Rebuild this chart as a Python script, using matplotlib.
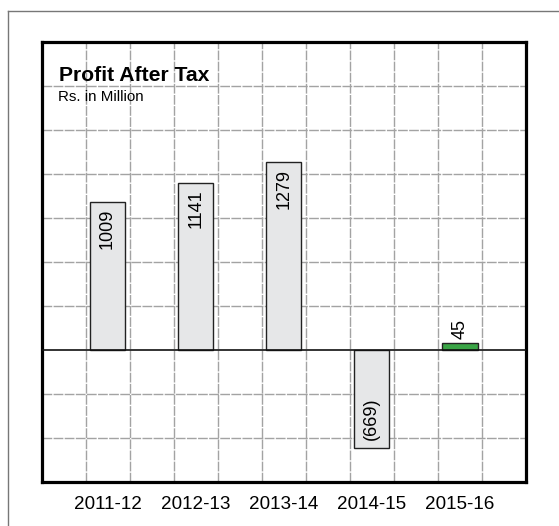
import matplotlib
matplotlib.use('Agg')
import matplotlib.pyplot as plt
from matplotlib.lines import Line2D
import numpy as np

plt.rcParams['font.family'] = ['Liberation Sans', 'DejaVu Sans']

# data (Rs. in Million)
years = ["2011-12", "2012-13", "2013-14", "2014-15", "2015-16"]
profit = [1009, 1141, 1279, -669, 45]
bar_colors = ["#e6e7e8", "#e6e7e8", "#e6e7e8", "#e6e7e8", "#3aa546"]

fig = plt.figure(figsize=(5.59, 5.26), dpi=100)
ax = fig.add_axes([41.5 / 559, 44 / 526, 484.5 / 559, 440 / 526])

x = np.arange(len(years))
bars = ax.bar(x, profit, width=0.4, color=bar_colors, edgecolor="#222222",
              linewidth=1.0, zorder=3)

# background grid: 11 columns, 10 rows
ax.set_xlim(-0.75, 4.75)
ax.set_ylim(-900, 2100)
for gx in np.arange(-0.25, 4.75, 0.5):
    ax.axvline(gx, color="#a3a3a3", lw=1.0, ls=(0, (7, 1)), zorder=1)
for gy in np.arange(-600, 2100, 300):
    if gy != 0:
        ax.axhline(gy, color="#a3a3a3", lw=1.0, ls=(0, (7, 1)), zorder=1)
ax.axhline(0, color="#111111", lw=1.2, zorder=4)

for b, v in zip(bars, profit):
    cx = b.get_x() + b.get_width() / 2
    if v < 0:
        ax.annotate("(%d)" % abs(v), (cx, v), xytext=(0, 6), textcoords="offset points",
                    rotation=90, ha="center", va="bottom", fontsize=13, zorder=5)
    elif v < 200:
        ax.annotate("%d" % v, (cx, v), xytext=(0, 3), textcoords="offset points",
                    rotation=90, ha="center", va="bottom", fontsize=13, zorder=5)
    else:
        ax.annotate("%d" % v, (cx, v), xytext=(0, -5), textcoords="offset points",
                    rotation=90, ha="center", va="top", fontsize=13, zorder=5)

ax.set_xticks(x)
ax.set_xticklabels(years, fontsize=13.6)
ax.set_yticks([])
ax.tick_params(axis="x", length=0, pad=10)
for s in ax.spines.values():
    s.set_linewidth(2.3)
    s.set_color("black")

fig.text(59 / 559, 1 - 80.7 / 526, "Profit After Tax", fontsize=15.2, fontweight="bold",
         va="baseline", ha="left")
fig.text(58 / 559, 1 - 101 / 526, "Rs. in Million", fontsize=10.9, va="baseline", ha="left")

# outer frame (top and left only)
fig.add_artist(Line2D([8 / 559, 1], [1 - 11 / 526, 1 - 11 / 526], color="#777777", lw=1.0))
fig.add_artist(Line2D([8 / 559, 8 / 559], [0, 1 - 11 / 526], color="#777777", lw=1.0))

fig.savefig("out.png", dpi=100)
